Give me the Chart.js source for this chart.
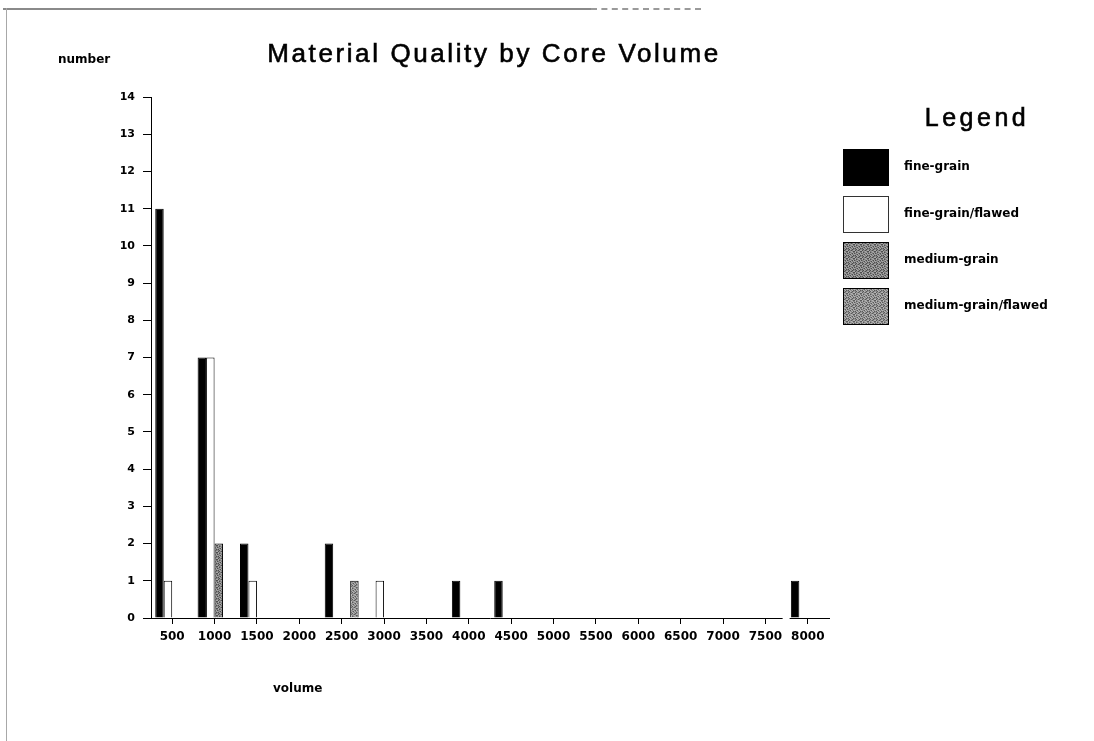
<!DOCTYPE html>
<html>
<head>
<meta charset="utf-8">
<script src="https://cdn.jsdelivr.net/npm/chart.js@4/dist/chart.umd.min.js"></script>
<style>
  html, body { margin: 0; padding: 0; background: #fff; }
  #wrap { position: relative; width: 1094px; height: 741px; overflow: hidden; }
  #c { position: absolute; left: 0; top: 0; }
  .frame-top { position: absolute; left: 3px; top: 8px; width: 588px; height: 0; border-top: 2px solid #8a8a8a; }
  .frame-top2 { position: absolute; left: 591px; top: 8px; width: 110px; height: 0; border-top: 2px dashed #9a9a9a; }
  .frame-left { position: absolute; left: 6px; top: 8px; width: 0; height: 733px; border-left: 1px solid #a8a8a8; }
</style>
</head>
<body>
<div id="wrap">
  <div class="frame-top"></div><div class="frame-top2"></div><div class="frame-left"></div>
  <canvas id="c" width="1094" height="741"></canvas>
</div>
<script>
// ---- data ----
const categories = ['500','1000','1500','2000','2500','3000','3500','4000','4500','5000','5500','6000','6500','7000','7500','8000'];
const fineGrain         = [11, 7, 2, 0, 2, 0, 0, 1, 1, 0, 0, 0, 0, 0, 0, 1];
const fineGrainFlawed   = [ 1, 7, 1, 0, 0, 1, 0, 0, 0, 0, 0, 0, 0, 0, 0, 0];
const mediumGrain       = [ 0, 2, 0, 0, 0, 0, 0, 0, 0, 0, 0, 0, 0, 0, 0, 0];
const mediumGrainFlawed = [ 0, 0, 0, 0, 1, 0, 0, 0, 0, 0, 0, 0, 0, 0, 0, 0];
const seriesNames = ['fine-grain', 'fine-grain/flawed', 'medium-grain', 'medium-grain/flawed'];
const yTicks = [0,1,2,3,4,5,6,7,8,9,10,11,12,13,14];
const chartTitle = 'Material Quality by Core Volume';
const yTitle = 'number';
const xTitle = 'volume';
const legendTitle = 'Legend';

// ---- textures (fixed speckle grid) ----
const speckle = [
  '0120310',
  '2031021',
  '1302103',
  '0213012',
  '3021320',
  '1230201',
  '2103132'
];
function makePattern(shades) {
  const n = speckle.length;
  const p = document.createElement('canvas');
  p.width = n; p.height = n;
  const g = p.getContext('2d');
  for (let y = 0; y < n; y++) for (let x = 0; x < n; x++) {
    g.fillStyle = shades[+speckle[y][x]];
    g.fillRect(x, y, 1, 1);
  }
  return document.createElement('canvas').getContext('2d').createPattern(p, 'repeat');
}
const mediumFill = makePattern(['#7a7a7a', '#a8a8a8', '#4e4e4e', '#909090']);
const mediumFlawedFill = makePattern(['#868686', '#b4b4b4', '#5a5a5a', '#9a9a9a']);
const fills = ['#000000', '#ffffff', mediumFill, mediumFlawedFill];

const ctx = document.getElementById('c').getContext('2d');

const overlayPlugin = {
  id: 'overlay',
  afterDraw(chart) {
    const c = chart.ctx;
    const a = chart.chartArea;
    c.save();
    // axis break between last two categories
    const xs = chart.scales.x;
    const bx = (xs.getPixelForValue(14) + xs.getPixelForValue(15)) / 2;
    c.fillStyle = '#fff';
    c.fillRect(bx - 4, a.bottom - 2, 7, 4);
    c.fillStyle = '#000';
    // title
    c.font = '26px "Liberation Sans", Arial, sans-serif';
    c.letterSpacing = '2.6px';
    c.textAlign = 'center';
    c.textBaseline = 'alphabetic';
    c.strokeStyle = '#000';
    c.lineWidth = 0.6;
    c.fillText(chartTitle, 494, 62);
    c.strokeText(chartTitle, 494, 62);
    // axis titles
    c.letterSpacing = '0px';
    c.font = 'bold 12px "DejaVu Sans", sans-serif';
    c.textAlign = 'left';
    c.textBaseline = 'middle';
    c.fillText(yTitle, 58, 60);
    c.fillText(xTitle, 273, 689);
    // legend
    c.font = '25px "Liberation Sans", Arial, sans-serif';
    c.letterSpacing = '3.5px';
    c.textAlign = 'center';
    c.textBaseline = 'alphabetic';
    c.fillText(legendTitle, 977, 126);
    c.strokeText(legendTitle, 977, 126);
    c.letterSpacing = '0px';
    const boxY = [149, 196, 242, 288];
    c.font = 'bold 12px "DejaVu Sans", sans-serif';
    c.textAlign = 'left';
    c.textBaseline = 'middle';
    seriesNames.forEach((name, i) => {
      c.fillStyle = fills[i];
      c.fillRect(843, boxY[i], 46, 37);
      c.strokeStyle = i === 1 ? '#333' : '#000';
      c.lineWidth = 1;
      c.strokeRect(843.5, boxY[i] + 0.5, 45, 36);
      c.fillStyle = '#000';
      c.fillText(name, 904, boxY[i] + 18);
    });
    c.restore();
  }
};

const dataSets = [fineGrain, fineGrainFlawed, mediumGrain, mediumGrainFlawed];

new Chart(ctx, {
  type: 'bar',
  data: {
    labels: categories,
    datasets: dataSets.map((d, i) => ({
      label: seriesNames[i],
      data: d,
      backgroundColor: fills[i],
      borderColor: '#000',
      borderWidth: 1,
      borderSkipped: 'start',
      categoryPercentage: 0.8,
      barPercentage: 1.0
    }))
  },
  options: {
    responsive: false,
    animation: false,
    layout: { padding: { left: 0, right: 265, top: 97, bottom: 93 } },
    plugins: {
      legend: { display: false },
      title: { display: false },
      tooltip: { enabled: false }
    },
    scales: {
      x: {
        type: 'category',
        offset: true,
        grid: { display: true, drawOnChartArea: false, offset: false, tickLength: 6, color: '#000', lineWidth: 1 },
        border: { display: true, color: '#000', width: 1 },
        ticks: { color: '#000', font: { family: '"DejaVu Sans", sans-serif', weight: 'bold', size: 12 }, padding: 6, maxRotation: 0, autoSkip: false },
        afterFit(s) { s.height = 30; }
      },
      y: {
        min: 0, max: 14,
        afterBuildTicks(s) { s.ticks = yTicks.map(v => ({ value: v })); },
        grid: { display: true, drawOnChartArea: false, tickLength: 8, color: '#000', lineWidth: 1 },
        border: { display: true, color: '#000', width: 1 },
        ticks: { color: '#000', font: { family: '"DejaVu Sans", sans-serif', weight: 'bold', size: 11 }, padding: 8 },
        afterFit(s) { s.width = 151; }
      }
    }
  },
  plugins: [overlayPlugin]
});
</script>
</body>
</html>
